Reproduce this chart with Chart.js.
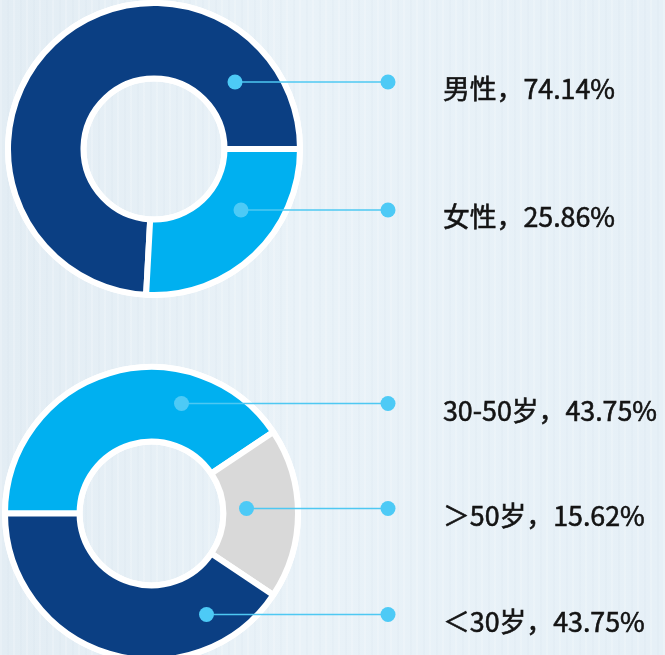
<!DOCTYPE html>
<html>
<head>
<meta charset="utf-8">
<script src="https://cdn.jsdelivr.net/npm/chart.js@4.4.1/dist/chart.umd.min.js"></script>
<style>
html, body { margin: 0; padding: 0; }
body {
    width: 665px; height: 655px; overflow: hidden; position: relative;
    background:
        repeating-linear-gradient(90deg, rgba(255,255,255,0.18) 0 2px, rgba(255,255,255,0) 2px 7px, rgba(200,215,228,0.10) 7px 9px, rgba(255,255,255,0) 9px 13px),
        linear-gradient(90deg, #e3edf4 0%, #e9f2f8 45%, #e6f0f7 100%);
}
canvas { position: absolute; left: 0; }
.lbl {
    position: absolute; left: 443px;
    font-family: "Noto Sans CJK SC", "Noto Sans", sans-serif;
    font-size: 26.8px; font-weight: 400; line-height: 26px;
    -webkit-text-stroke: 0.6px #141414;
    color: #141414; white-space: nowrap;
}
</style>
</head>
<body>
<canvas id="genderChart" width="665" height="298" style="top:0px"></canvas>
<canvas id="ageChart" width="665" height="303" style="top:362px"></canvas>
<script>
const genderLabels = ['男性', '女性'];
const genderShares = [74.14, 25.86];
const genderText = ['74.14%', '25.86%'];
const genderColors = ['#0b3f83', '#00b0f0'];

const ageLabels = ['30-50岁', '＞50岁', '＜30岁'];
const ageShares = [13, 6, 13]; // slice sizes as drawn in the picture
const ageText = ['43.75%', '15.62%', '43.75%'];
const ageColors = ['#00b0f0', '#d9d9d9', '#0b3f83'];

// callout placement: inner dot offset from the ring centre
const genderCallouts = [{dx: 81, dy: -67}, {dx: 87, dy: 61}];
const ageCallouts = [{dx: 30, dy: -110}, {dx: 95, dy: -5}, {dx: 55, dy: 101}];
const calloutEndX = 388;
const labelX = 443;

function ringPlugin(callouts) {
    return {
        id: 'ringAndLeaders',
        beforeDatasetsDraw(chart) {
            const arc = chart.getDatasetMeta(0).data[0];
            const {x, y, innerRadius, outerRadius} = arc.getProps(['x', 'y', 'innerRadius', 'outerRadius'], true);
            const ctx = chart.ctx;
            ctx.save();
            ctx.beginPath();
            ctx.arc(x, y, outerRadius + 3, 0, Math.PI * 2);
            ctx.arc(x, y, innerRadius - 3, 0, Math.PI * 2, true);
            ctx.fillStyle = '#ffffff';
            ctx.fill();
            ctx.restore();
        },
        afterDatasetsDraw(chart) {
            const arc = chart.getDatasetMeta(0).data[0];
            const {x, y} = arc.getProps(['x', 'y'], true);
            const ctx = chart.ctx;
            ctx.save();
            callouts.forEach(c => {
                const sx = x + c.dx, sy = y + c.dy;
                ctx.strokeStyle = '#4ec8f2';
                ctx.lineWidth = 1.5;
                ctx.beginPath();
                ctx.moveTo(sx, sy);
                ctx.lineTo(calloutEndX, sy);
                ctx.stroke();
                ctx.fillStyle = '#4dcaf6';
                [sx, calloutEndX].forEach(px => {
                    ctx.beginPath();
                    ctx.arc(px, sy, 7.5, 0, Math.PI * 2);
                    ctx.fill();
                });
            });
            ctx.restore();
        }
    };
}

function makeDonut(id, labels, values, colors, opts, callouts) {
    return new Chart(document.getElementById(id), {
        type: 'doughnut',
        data: {
            labels: labels,
            datasets: [{
                data: values,
                backgroundColor: colors,
                borderColor: '#ffffff',
                borderWidth: 6,
                hoverOffset: 0
            }]
        },
        options: {
            responsive: false,
            animation: false,
            events: [],
            radius: opts.radius,
            cutout: opts.cutout,
            rotation: opts.rotation,
            layout: { padding: { left: 0, right: opts.padRight, top: 0, bottom: 0 } },
            plugins: { legend: { display: false }, tooltip: { enabled: false } }
        },
        plugins: [ringPlugin(callouts)]
    });
}

const genderTotal = genderShares.reduce((a, b) => a + b, 0);
const genderChart = makeDonut('genderChart', genderLabels, genderShares, genderColors, {
    radius: 146, cutout: '48.3%', padRight: 357,
    rotation: 90 + genderShares[1] / genderTotal * 360
}, genderCallouts);

const ageChart = makeDonut('ageChart', ageLabels, ageShares, ageColors, {
    radius: 146.5, cutout: '49.1%', padRight: 362, rotation: 270
}, ageCallouts);

function addLabels(chart, top, labels, texts, callouts) {
    const arc = chart.getDatasetMeta(0).data[0];
    labels.forEach((l, i) => {
        const d = document.createElement('div');
        d.className = 'lbl';
        d.textContent = l + '，' + texts[i];
        d.style.top = (top + arc.y + callouts[i].dy + 6 - 13) + 'px';
        d.style.left = labelX + 'px';
        document.body.appendChild(d);
    });
}
addLabels(genderChart, 0, genderLabels, genderText, genderCallouts);
addLabels(ageChart, 362, ageLabels, ageText, ageCallouts);
</script>
</body>
</html>
